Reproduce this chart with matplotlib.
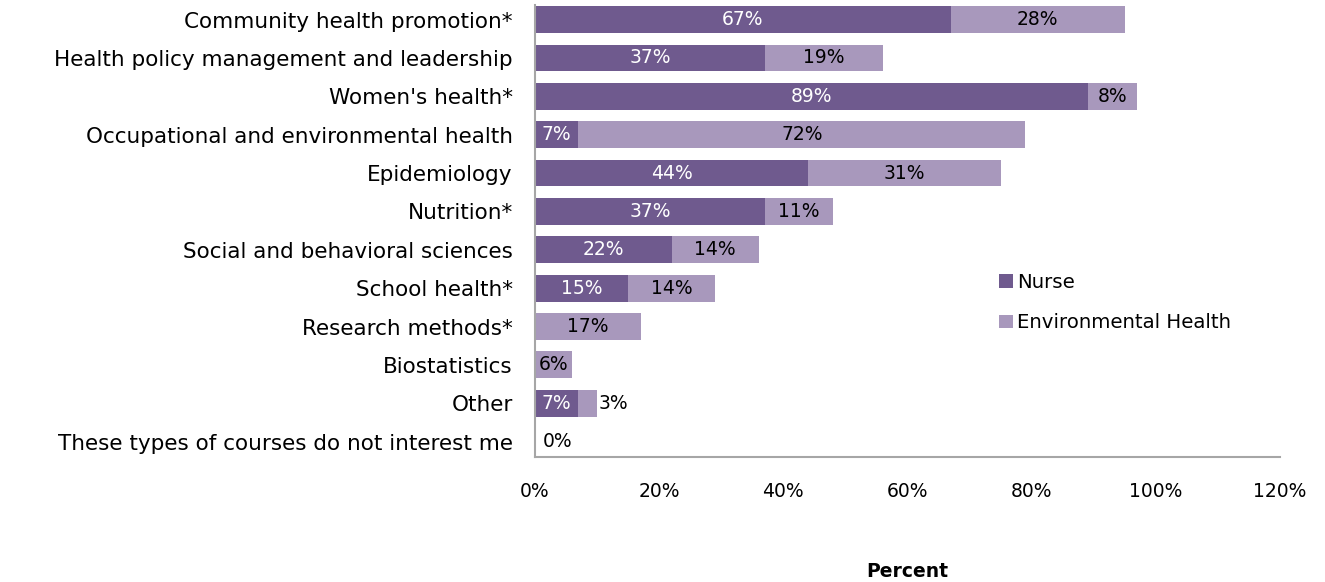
import numpy as np
import matplotlib
matplotlib.use('Agg')
import matplotlib.pyplot as plt
from matplotlib.ticker import PercentFormatter

categories = [
    'Community health promotion*',
    'Health policy management and leadership',
    "Women's health*",
    'Occupational and environmental health',
    'Epidemiology',
    'Nutrition*',
    'Social and behavioral sciences',
    'School health*',
    'Research methods*',
    'Biostatistics',
    'Other',
    'These types of courses do not interest me',
]
nurse = [67, 37, 89, 7, 44, 37, 22, 15, 0, 0, 7, 0]
env_health = [28, 19, 8, 72, 31, 11, 14, 14, 17, 6, 3, 0]

dark = '#6f5a8e'
light = '#a898bc'
fs = 13.5

plt.rcParams['font.family'] = 'DejaVu Sans'

fig = plt.figure(figsize=(13.25, 5.82), dpi=100)
ax = fig.add_axes([0.4038, 0.2148, 0.5622, 0.7766])

y = np.arange(len(categories))
ax.barh(y, nurse, height=0.7, color=dark, label='Nurse')
ax.barh(y, env_health, left=nurse, height=0.7, color=light,
        label='Environmental Health')

# value labels: white inside the nurse bars, black on the environmental health part
for i in range(len(categories)):
    n, e = nurse[i], env_health[i]
    if n > 0:
        ax.text(n / 2, i, f'{n}%', ha='center', va='center', color='white', fontsize=fs)
    if e >= 5:
        ax.text(n + e / 2, i, f'{e}%', ha='center', va='center', color='black', fontsize=fs)
    elif e > 0:
        ax.text(n + e + 0.2, i, f'{e}%', ha='left', va='center', color='black', fontsize=fs)
    elif n == 0:
        ax.text(1.3, i, f'{e}%', ha='left', va='center', color='black', fontsize=fs)

ax.set_ylim(len(categories) - 0.6, -0.38)
ax.set_yticks(y)
ax.set_yticklabels(categories, fontsize=15.5)
ax.set_xlim(0, 120)
ax.set_xticks(np.arange(0, 121, 20))
ax.xaxis.set_major_formatter(PercentFormatter(decimals=0))
ax.tick_params(axis='x', labelsize=fs, length=0, pad=18)
ax.tick_params(axis='y', length=0, pad=16)

for side in ['top', 'right']:
    ax.spines[side].set_visible(False)
for side in ['left', 'bottom']:
    ax.spines[side].set_color('#a6a6a6')
    ax.spines[side].set_linewidth(1.5)

ax.set_xlabel('Percent', fontsize=fs, fontweight='bold', labelpad=44)

fig.legend(loc='upper left', bbox_to_anchor=(0.7405, 0.562), frameon=False,
           fontsize=14.2, handlelength=0.7, handleheight=0.7, handletextpad=0.2,
           labelspacing=1.1)

fig.savefig('out.png', dpi=100)
